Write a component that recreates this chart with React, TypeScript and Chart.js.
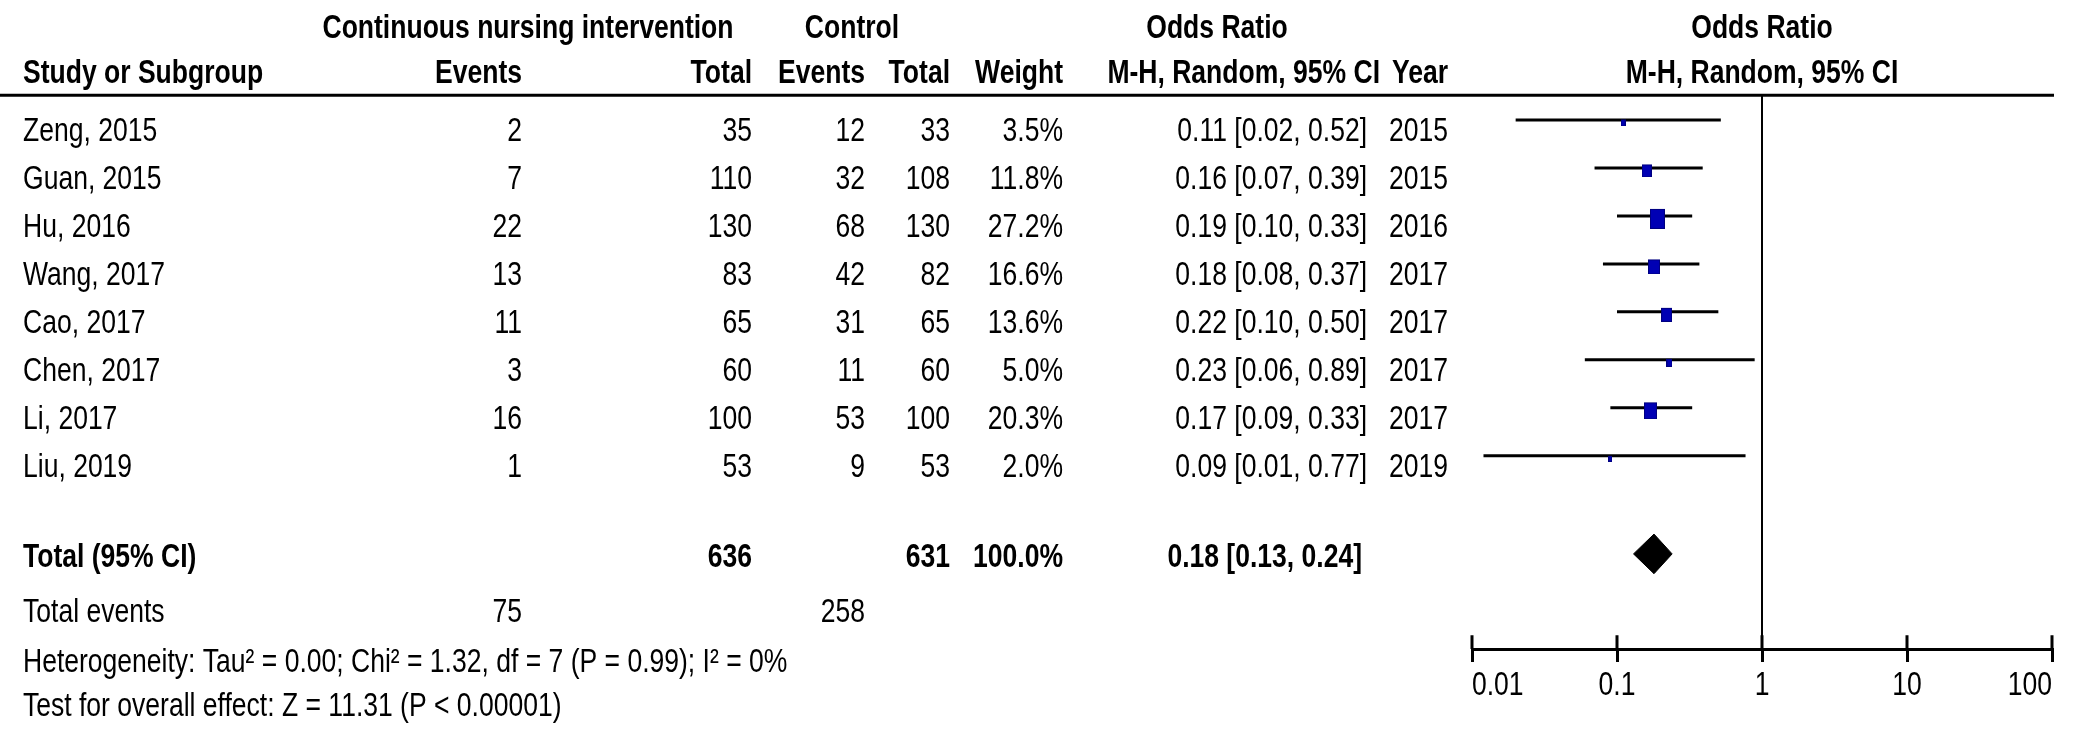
import React, { useEffect, useRef } from 'react';
import { Chart, registerables } from 'chart.js';

Chart.register(...registerables);

// ---------------- data ----------------
const STUDIES = ['Zeng, 2015', 'Guan, 2015', 'Hu, 2016', 'Wang, 2017', 'Cao, 2017', 'Chen, 2017', 'Li, 2017', 'Liu, 2019'];
const EXP_EVENTS = [2, 7, 22, 13, 11, 3, 16, 1];
const EXP_TOTAL = [35, 110, 130, 83, 65, 60, 100, 53];
const CTRL_EVENTS = [12, 32, 68, 42, 31, 11, 53, 9];
const CTRL_TOTAL = [33, 108, 130, 82, 65, 60, 100, 53];
const WEIGHTS = [3.5, 11.8, 27.2, 16.6, 13.6, 5.0, 20.3, 2.0];
const OR = [0.11, 0.16, 0.19, 0.18, 0.22, 0.23, 0.17, 0.09];
const OR_LO = [0.02, 0.07, 0.10, 0.08, 0.10, 0.06, 0.09, 0.012];
const OR_HI = [0.52, 0.39, 0.33, 0.37, 0.50, 0.89, 0.33, 0.77];
const YEARS = [2015, 2015, 2016, 2017, 2017, 2017, 2017, 2019];

const POOLED = [0.18, 0.13, 0.24]; // estimate, lower, upper
const TOTALS = [636, 631];
const TOTAL_WEIGHT = 100.0;
const TOTAL_EVENTS = [75, 258];
const HETEROGENEITY = 'Heterogeneity: Tau\u00b2 = 0.00; Chi\u00b2 = 1.32, df = 7 (P = 0.99); I\u00b2 = 0%';
const OVERALL = 'Test for overall effect: Z = 11.31 (P < 0.00001)';
const TICKS = [0.01, 0.1, 1, 10, 100];
const TICK_LABELS = ['0.01', '0.1', '1', '10', '100'];

// ---------------- layout / style ----------------
const W = 2079;
const H = 731;
const PLOT_LEFT = 1472;
const PLOT_RIGHT_PAD = 27;
const AXIS_BAND = 82;
const ROW_MIN = -2.3746;
const ROW_MAX = 11.026;
const FONT = '"Liberation Sans", Arial, Helvetica, sans-serif';
const FS = 34;
const SX = 0.78;
const SQUARE_COLOR = '#0000B4';

const COL = { name: 23, expEv: 522, expTot: 752, ctlEv: 865, ctlTot: 950, weight: 1063, ci: 1367, ciTotal: 1362, year: 1448 };
const HEAD = { group1: 528, group2: 852, orLeft: 1217, mhLeftRight: 1380 };
const ROWPOS = {
  head1: -1.714, head2: -0.764, rule: -0.516, studyBase: 0.444,
  diamond: 9.044, total: 9.312, events: 10.47, het: 11.5, test: 12.43,
  tickTop: 10.737, tickLabel: 11.976,
};
const DIAMOND_HALF = 0.413;

function makeBox(weight: number): HTMLCanvasElement {
  const bw = Math.max(4, Math.round(2.9 * Math.sqrt(weight)));
  const bh = Math.max(6, Math.round(3.8 * Math.sqrt(weight)));
  const c = document.createElement('canvas');
  c.width = bw;
  c.height = bh + 6;
  const g = c.getContext('2d')!;
  g.fillStyle = SQUARE_COLOR;
  g.fillRect(0, 6, bw, bh);
  g.strokeStyle = '#000080';
  g.lineWidth = 1;
  g.strokeRect(0.5, 6.5, bw - 1, bh - 1);
  return c;
}

const f2 = (v: number) => v.toFixed(2);
const ciText = (o: number, l: number, h: number) => `${f2(o)} [${f2(l)}, ${f2(h)}]`;

const tablePlugin = {
  id: 'forestTable',
  afterDraw(chart: any) {
    const ctx: CanvasRenderingContext2D = chart.ctx;
    const xs = chart.scales.x;
    const ys = chart.scales.y;
    const py = (v: number) => ys.getPixelForValue(v);
    const t = (s: string, px: number, row: number, align: CanvasTextAlign, bold = false) => {
      ctx.save();
      ctx.font = `${bold ? 'bold ' : ''}${FS}px ${FONT}`;
      ctx.fillStyle = '#000';
      ctx.textAlign = align;
      ctx.textBaseline = 'alphabetic';
      ctx.translate(px, py(row));
      ctx.scale(SX, 1);
      ctx.fillText(s, 0, 0);
      ctx.restore();
    };

    // header rule
    ctx.save();
    ctx.strokeStyle = '#000';
    ctx.lineWidth = 3;
    ctx.beginPath();
    ctx.moveTo(0, py(ROWPOS.rule));
    ctx.lineTo(xs.getPixelForValue(TICKS[TICKS.length - 1]) + 2, py(ROWPOS.rule));
    ctx.stroke();
    // upper halves of tick marks
    ctx.beginPath();
    TICKS.forEach((v) => {
      const p = xs.getPixelForValue(v);
      ctx.moveTo(p, py(ROWPOS.tickTop));
      ctx.lineTo(p, xs.top);
    });
    ctx.stroke();
    ctx.restore();

    // tick labels
    TICKS.forEach((v, i) => {
      const align: CanvasTextAlign = i === 0 ? 'left' : i === TICKS.length - 1 ? 'right' : 'center';
      t(TICK_LABELS[i], xs.getPixelForValue(v), ROWPOS.tickLabel, align);
    });

    // headers
    t('Continuous nursing intervention', HEAD.group1, ROWPOS.head1, 'center', true);
    t('Control', HEAD.group2, ROWPOS.head1, 'center', true);
    t('Odds Ratio', HEAD.orLeft, ROWPOS.head1, 'center', true);
    t('Odds Ratio', xs.getPixelForValue(1), ROWPOS.head1, 'center', true);
    t('Study or Subgroup', COL.name, ROWPOS.head2, 'left', true);
    t('Events', COL.expEv, ROWPOS.head2, 'right', true);
    t('Total', COL.expTot, ROWPOS.head2, 'right', true);
    t('Events', COL.ctlEv, ROWPOS.head2, 'right', true);
    t('Total', COL.ctlTot, ROWPOS.head2, 'right', true);
    t('Weight', COL.weight, ROWPOS.head2, 'right', true);
    t('M-H, Random, 95% CI', HEAD.mhLeftRight, ROWPOS.head2, 'right', true);
    t('Year', COL.year, ROWPOS.head2, 'right', true);
    t('M-H, Random, 95% CI', xs.getPixelForValue(1), ROWPOS.head2, 'center', true);

    // study rows
    STUDIES.forEach((s, i) => {
      const r = i + ROWPOS.studyBase;
      t(s, COL.name, r, 'left');
      t(String(EXP_EVENTS[i]), COL.expEv, r, 'right');
      t(String(EXP_TOTAL[i]), COL.expTot, r, 'right');
      t(String(CTRL_EVENTS[i]), COL.ctlEv, r, 'right');
      t(String(CTRL_TOTAL[i]), COL.ctlTot, r, 'right');
      t(WEIGHTS[i].toFixed(1) + '%', COL.weight, r, 'right');
      t(ciText(OR[i], OR_LO[i], OR_HI[i]), COL.ci, r, 'right');
      t(String(YEARS[i]), COL.year, r, 'right');
    });

    // totals
    t('Total (95% CI)', COL.name, ROWPOS.total, 'left', true);
    t(String(TOTALS[0]), COL.expTot, ROWPOS.total, 'right', true);
    t(String(TOTALS[1]), COL.ctlTot, ROWPOS.total, 'right', true);
    t(TOTAL_WEIGHT.toFixed(1) + '%', COL.weight, ROWPOS.total, 'right', true);
    t(ciText(POOLED[0], POOLED[1], POOLED[2]), COL.ciTotal, ROWPOS.total, 'right', true);
    t('Total events', COL.name, ROWPOS.events, 'left');
    t(String(TOTAL_EVENTS[0]), COL.expEv, ROWPOS.events, 'right');
    t(String(TOTAL_EVENTS[1]), COL.ctlEv, ROWPOS.events, 'right');
    t(HETEROGENEITY, COL.name, ROWPOS.het, 'left');
    t(OVERALL, COL.name, ROWPOS.test, 'left');
  },
};

export default function App() {
  const ref = useRef<HTMLCanvasElement | null>(null);

  useEffect(() => {
    if (!ref.current) return;
    const boxes = WEIGHTS.map(makeBox);

    const ciSets = STUDIES.map((s, i) => ({
      label: s + ' CI',
      data: [{ x: OR_LO[i], y: i }, { x: OR_HI[i], y: i }],
      borderColor: '#000',
      borderWidth: 3,
      pointRadius: 0,
      showLine: true,
      fill: false,
      tension: 0,
      order: 2,
    }));

    const squares = {
      label: 'Odds ratio',
      data: OR.map((v, i) => ({ x: v, y: i })),
      showLine: false,
      pointRadius: 6,
      pointStyle: (c: any) => boxes[c.dataIndex] || 'rect',
      borderWidth: 0,
      backgroundColor: SQUARE_COLOR,
      order: 0,
    };

    const [est, lo, hi] = POOLED;
    const diamond = {
      label: 'Pooled',
      data: [
        { x: lo, y: ROWPOS.diamond },
        { x: est, y: ROWPOS.diamond - DIAMOND_HALF },
        { x: hi, y: ROWPOS.diamond },
        { x: est, y: ROWPOS.diamond + DIAMOND_HALF },
        { x: lo, y: ROWPOS.diamond },
      ],
      showLine: true,
      fill: 'shape',
      backgroundColor: '#000',
      borderColor: '#000',
      borderWidth: 1,
      pointRadius: 0,
      tension: 0,
      order: 1,
    };

    const noEffect = {
      label: 'No effect',
      data: [{ x: 1, y: ROWPOS.rule }, { x: 1, y: ROW_MAX }],
      showLine: true,
      borderColor: '#000',
      borderWidth: 2,
      pointRadius: 0,
      fill: false,
      order: 3,
    };

    const chart = new Chart(ref.current, {
      type: 'line',
      data: { datasets: [squares, diamond, ...ciSets, noEffect] as any },
      options: {
        responsive: false,
        animation: false,
        events: [],
        layout: { padding: { left: PLOT_LEFT, right: PLOT_RIGHT_PAD, top: 0, bottom: 0 } },
        plugins: { legend: { display: false }, tooltip: { enabled: false } },
        scales: {
          x: {
            type: 'logarithmic',
            min: TICKS[0],
            max: TICKS[TICKS.length - 1],
            position: 'bottom',
            afterBuildTicks: (scale: any) => {
              scale.ticks = TICKS.map((v) => ({ value: v }));
            },
            afterFit: (scale: any) => {
              scale.height = AXIS_BAND;
            },
            border: { display: true, color: '#000', width: 3 },
            grid: {
              display: true,
              drawOnChartArea: false,
              drawTicks: true,
              tickLength: 13,
              tickWidth: 3,
              tickColor: '#000',
              color: '#000',
              lineWidth: 3,
            },
            ticks: { display: false },
          },
          y: {
            type: 'linear',
            reverse: true,
            min: ROW_MIN,
            max: ROW_MAX,
            display: false,
          },
        },
      } as any,
      plugins: [tablePlugin],
    });
    return () => chart.destroy();
  }, []);

  return (
    <div style={{ position: 'absolute', left: 0, top: 0, width: W, height: H, background: '#fff' }}>
      <canvas ref={ref} width={W} height={H} style={{ display: 'block', width: W, height: H }} />
    </div>
  );
}
